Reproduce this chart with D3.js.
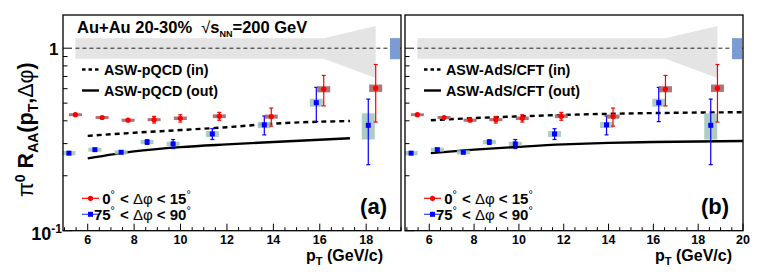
<!DOCTYPE html>
<html>
<head>
<meta charset="utf-8">
<script src="https://d3js.org/d3.v7.min.js"></script>
<style>
  body { margin: 0; background: #fff; }
  #chart text { font-family: "Liberation Sans", Arial, sans-serif; font-weight: bold; fill: #000; }
</style>
</head>
<body>
<div id="chart"></div>
<script>
"use strict"

// pT of the points
var ptInA  = [5.47, 6.62, 7.74, 8.86, 9.99, 11.67, 13.91, 16.17, 18.41];
var ptOutA = [5.19, 6.31, 7.44, 8.56, 9.68, 11.37, 13.61, 15.85, 18.09];
var ptInB  = [5.47, 6.66, 7.82, 8.97, 10.15, 11.89, 14.20, 16.54, 18.86];
var ptOutB = [5.19, 6.36, 7.52, 8.68, 9.84, 11.59, 13.91, 16.24, 18.56];

// 0 < dphi < 15 (in plane)
var raaIn  = [0.432, 0.417, 0.403, 0.406, 0.413, 0.424, 0.422, 0.596, 0.604];
var statIn = [0.005, 0.006, 0.008, 0.017, 0.019, 0.021, 0.048, 0.113, 0.21];
var sysIn  = [0.008, 0.008, 0.008, 0.008, 0.009, 0.010, 0.011, 0.023, 0.028];
// 75 < dphi < 90 (out of plane)
var raaOut  = [0.266, 0.278, 0.269, 0.306, 0.299, 0.339, 0.380, 0.503, 0.378];
var statOut = [0.003, 0.003, 0.003, 0.009, 0.017, 0.023, 0.045, 0.107, 0.148];
var sysOut  = [0.007, 0.007, 0.007, 0.008, 0.008, 0.0125, 0.0145, 0.025, 0.062];

// grey band around 1, at the in-plane pT values
var bandHi = [1.134, 1.134, 1.134, 1.134, 1.134, 1.134, 1.134, 1.134, 1.325];
var bandLo = [0.875, 0.875, 0.875, 0.875, 0.875, 0.875, 0.875, 0.875, 0.687];
var normBox = [0.87, 1.135];

// model curves
var pqcdPt  = [6, 8, 10, 12, 14, 17.3];
var pqcdIn  = [0.331, 0.344, 0.356, 0.369, 0.386, 0.399];
var pqcdOut = [0.249, 0.272, 0.287, 0.297, 0.306, 0.321];
var adsPt  = [6.07, 8, 10, 12, 14, 16, 18, 20];
var adsIn  = [0.403, 0.414, 0.423, 0.431, 0.437, 0.441, 0.444, 0.446];
var adsOut = [0.266, 0.278, 0.288, 0.297, 0.303, 0.306, 0.308, 0.310];

var xTicksA = [6, 8, 10, 12, 14, 16, 18];
var xTicksB = [6, 8, 10, 12, 14, 16, 18, 20];
var yMajor = [0.1, 1];
var yMinor = [0.2, 0.3, 0.4, 0.5, 0.6, 0.7, 0.8, 0.9];

var W = 761, H = 272;
var yTop = 15, yBot = 230.7;

var svg = d3.select('#chart').append('svg')
    .attr('width', W).attr('height', H);

var y = d3.scaleLog().domain([0.1, 1.52]).range([yBot, yTop]);

var panels = [
  { x0: 63, x1: 401, dom: [4.935, 19.5], ptIn: ptInA, ptOut: ptOutA, ticks: xTicksA,
    thPt: pqcdPt, thIn: pqcdIn, thOut: pqcdOut,
    names: ['ASW-pQCD (in)', 'ASW-pQCD (out)'], tag: '(a)', titleEnd: 383, yLabels: true },
  { x0: 405, x1: 743, dom: [4.917, 20], ptIn: ptInB, ptOut: ptOutB, ticks: xTicksB,
    thPt: adsPt, thIn: adsIn, thOut: adsOut,
    names: ['ASW-AdS/CFT (in)', 'ASW-AdS/CFT (out)'], tag: '(b)', titleEnd: 732, yLabels: false }
];

panels.forEach(function(p) {
  var x = d3.scaleLinear().domain(p.dom).range([p.x0, p.x1]);
  var g = svg.append('g');
  var n = d3.range(raaIn.length);

  // band around unity
  g.append('path')
    .attr('d', d3.area().x(i => x(p.ptIn[i])).y0(i => y(bandLo[i])).y1(i => y(bandHi[i]))(n))
    .attr('fill', '#e4e4e4');

  g.append('line')
    .attr('x1', x(p.ptIn[0])).attr('x2', p.x1)
    .attr('y1', y(1)).attr('y2', y(1))
    .attr('stroke', '#222').attr('stroke-width', 1).attr('stroke-dasharray', '4,3');

  g.append('rect')
    .attr('x', p.x1 - 11).attr('width', 10)
    .attr('y', y(normBox[1])).attr('height', y(normBox[0]) - y(normBox[1]))
    .attr('fill', '#7b9bd5');

  // model curves
  var th = d3.range(p.thPt.length);
  g.append('path')
    .attr('d', d3.line().curve(d3.curveMonotoneX).x(i => x(p.thPt[i])).y(i => y(p.thIn[i]))(th))
    .attr('fill', 'none').attr('stroke', '#000').attr('stroke-width', 2.4)
    .attr('stroke-dasharray', '5,4');
  g.append('path')
    .attr('d', d3.line().curve(d3.curveMonotoneX).x(i => x(p.thPt[i])).y(i => y(p.thOut[i]))(th))
    .attr('fill', 'none').attr('stroke', '#000').attr('stroke-width', 2.4);

  // data
  var sets = [
    { pt: p.ptOut, v: raaOut, st: statOut, sy: sysOut, col: '#0000ff', box: '#a4c8bd', sq: true },
    { pt: p.ptIn, v: raaIn, st: statIn, sy: sysIn, col: '#ff0000', box: '#a86464', sq: false }
  ];
  sets.forEach(function(s) {
    g.selectAll(null).data(n).enter().append('rect')
      .attr('x', i => x(s.pt[i]) - 6.5).attr('width', 13)
      .attr('y', i => y(s.v[i] + s.sy[i]))
      .attr('height', i => Math.max(2.5, y(s.v[i] - s.sy[i]) - y(s.v[i] + s.sy[i])))
      .attr('fill', s.box).attr('opacity', 0.9);
    g.selectAll(null).data(n).enter().append('line')
      .attr('x1', i => x(s.pt[i])).attr('x2', i => x(s.pt[i]))
      .attr('y1', i => y(s.v[i] + s.st[i])).attr('y2', i => y(s.v[i] - s.st[i]))
      .attr('stroke', s.col).attr('stroke-width', 1.2);
    [1, -1].forEach(function(sgn) {
      g.selectAll(null).data(n.filter(i => s.st[i] > 0.008)).enter().append('line')
        .attr('x1', i => x(s.pt[i]) - 2).attr('x2', i => x(s.pt[i]) + 2)
        .attr('y1', i => y(s.v[i] + sgn * s.st[i])).attr('y2', i => y(s.v[i] + sgn * s.st[i]))
        .attr('stroke', s.col).attr('stroke-width', 1.2);
    });
    if (s.sq) {
      g.selectAll(null).data(n).enter().append('rect')
        .attr('x', i => x(s.pt[i]) - 2.5).attr('y', i => y(s.v[i]) - 2.5)
        .attr('width', 5).attr('height', 5).attr('fill', s.col);
    } else {
      g.selectAll(null).data(n).enter().append('circle')
        .attr('cx', i => x(s.pt[i])).attr('cy', i => y(s.v[i]))
        .attr('r', 2.6).attr('fill', s.col);
    }
  });

  // model legend
  var lx = p.x0 + 19;
  g.append('line').attr('x1', lx).attr('x2', lx + 17).attr('y1', 69.5).attr('y2', 69.5)
    .attr('stroke', '#000').attr('stroke-width', 2.4).attr('stroke-dasharray', '3.5,3');
  g.append('line').attr('x1', lx).attr('x2', lx + 17).attr('y1', 90.5).attr('y2', 90.5)
    .attr('stroke', '#000').attr('stroke-width', 2.4);
  g.append('text').attr('x', p.x0 + 41).attr('y', 74.5).attr('font-size', 14.3).text(p.names[0]);
  g.append('text').attr('x', p.x0 + 41).attr('y', 95.5).attr('font-size', 14.3).text(p.names[1]);

  // data legend
  g.append('line').attr('x1', lx).attr('x2', lx + 17).attr('y1', 198.3).attr('y2', 198.3)
    .attr('stroke', '#ff0000').attr('stroke-width', 1.2);
  g.append('circle').attr('cx', lx + 8.5).attr('cy', 198.3).attr('r', 2.6).attr('fill', '#ff0000');
  g.append('line').attr('x1', lx).attr('x2', lx + 17).attr('y1', 214.3).attr('y2', 214.3)
    .attr('stroke', '#3344ff').attr('stroke-width', 1.2);
  g.append('rect').attr('x', lx + 6).attr('y', 211.8).attr('width', 5).attr('height', 5).attr('fill', '#0000ff');

  var rows = [['0', '15', 204], ['75', '90', 220]];
  rows.forEach(function(r) {
    var t = g.append('text').attr('x', p.x0 + 52).attr('y', r[2]).attr('font-size', 15)
      .attr('text-anchor', 'end');
    t.append('tspan').text(r[0]);
    t.append('tspan').attr('dy', -6).attr('font-size', 11).attr('font-weight', 'normal').text('°');
    var t2 = g.append('text').attr('x', p.x0 + 57).attr('y', r[2]).attr('font-size', 15);
    t2.append('tspan').text('< ');
    t2.append('tspan').attr('font-weight', 'normal').text('Δφ');
    t2.append('tspan').text(' < ' + r[1]);
    t2.append('tspan').attr('dy', -6).attr('font-size', 11).attr('font-weight', 'normal').text('°');
  });

  g.append('text').attr('x', p.x1 - 14).attr('y', 214).attr('font-size', 22)
    .attr('text-anchor', 'end').text(p.tag);

  // x axis ticks, pointing into the frame
  var minor = d3.range(Math.ceil(p.dom[0] * 2) / 2, p.dom[1] + 0.001, 0.5);
  g.selectAll(null).data(minor).enter().append('line')
    .attr('x1', d => x(d)).attr('x2', d => x(d))
    .attr('y1', yBot).attr('y2', d => yBot - (d % 2 === 0 ? 7 : 3.5))
    .attr('stroke', '#000').attr('stroke-width', 1);
  g.selectAll(null).data(p.ticks).enter().append('text')
    .attr('x', d => x(d)).attr('y', 244).attr('font-size', 12.5)
    .attr('text-anchor', 'middle').text(d => d);

  var xt = g.append('text').attr('x', p.titleEnd).attr('y', 261).attr('font-size', 16)
    .attr('text-anchor', 'end');
  xt.append('tspan').text('p');
  xt.append('tspan').attr('dy', 4).attr('font-size', 11).text('T');
  xt.append('tspan').attr('dy', -4).text(' (GeV/c)');

  // y axis ticks
  g.selectAll(null).data(yMajor.concat(yMinor)).enter().append('line')
    .attr('x1', p.x0).attr('x2', d => p.x0 + (yMajor.indexOf(d) >= 0 ? 9 : 4.5))
    .attr('y1', d => y(d)).attr('y2', d => y(d))
    .attr('stroke', '#000').attr('stroke-width', 1);

  if (p.yLabels) {
    g.append('text').attr('x', p.x0 - 4.5).attr('y', y(1) + 6.5).attr('font-size', 17)
      .attr('text-anchor', 'end').text('1');
    var tl = g.append('text').attr('x', p.x0 - 1).attr('y', y(0.1) + 9.5).attr('font-size', 18)
      .attr('text-anchor', 'end');
    tl.append('tspan').text('10');
    tl.append('tspan').attr('dy', -7).attr('font-size', 12).text('-1');
  }

  g.append('rect').attr('x', p.x0).attr('y', yTop)
    .attr('width', p.x1 - p.x0).attr('height', yBot - yTop)
    .attr('fill', 'none').attr('stroke', '#000').attr('stroke-width', 1.3);
});

// header
var hd = svg.append('text').attr('x', 77).attr('y', 33.3).attr('font-size', 16.5);
hd.append('tspan').text('Au+Au 20-30%\u00a0\u00a0');
hd.append('tspan').attr('font-weight', 'normal').text('√');
hd.append('tspan').text('s');
hd.append('tspan').attr('dy', 4).attr('font-size', 9).text('NN');
hd.append('tspan').attr('dy', -4).text('=200 GeV');

// y title
var yt = svg.append('text').attr('transform', 'translate(33,197) rotate(-90)').attr('font-size', 21.5);
yt.append('tspan').attr('font-weight', 'normal').text('π');
yt.append('tspan').attr('dy', -8).attr('font-size', 14).text('0');
yt.append('tspan').attr('dy', 8).text(' R');
yt.append('tspan').attr('dy', 5).attr('font-size', 14).text('AA');
yt.append('tspan').attr('dy', -5).text('(p');
yt.append('tspan').attr('dy', 5).attr('font-size', 14).text('T');
yt.append('tspan').attr('dy', -5).text(',');
yt.append('tspan').attr('font-weight', 'normal').text('Δφ');
yt.append('tspan').text(')');
</script>
</body>
</html>
